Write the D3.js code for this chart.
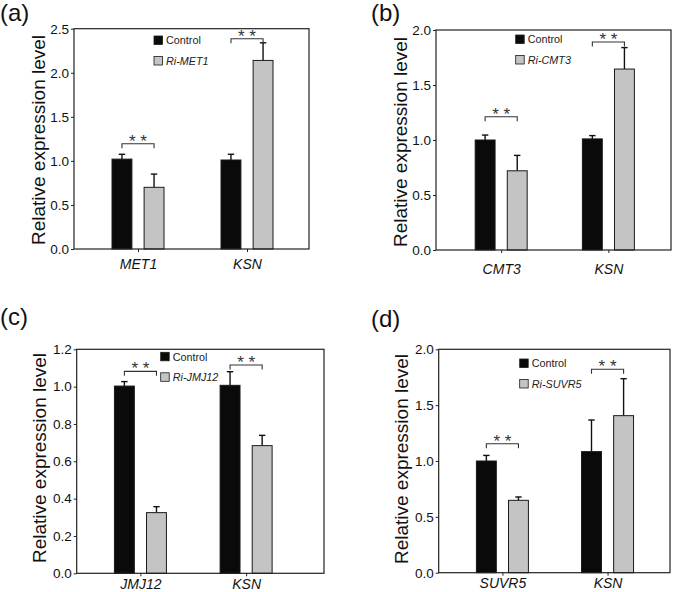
<!DOCTYPE html>
<html>
<head>
<meta charset="utf-8">
<script src="https://cdn.jsdelivr.net/npm/d3@7/dist/d3.min.js"></script>
<style>
  html, body { margin: 0; padding: 0; background: #fff; }
  svg { display: block; font-family: "Liberation Sans", Arial, sans-serif; }
</style>
</head>
<body>
<svg id="chart" width="673" height="592"></svg>
<script>
// ---------- data ----------
const panelLetters = ["(a)", "(b)", "(c)", "(d)"];

const genesA = ["MET1", "KSN"];
const controlA = [1.02, 1.01];
const controlErrA = [0.055, 0.065];
const riA = [0.70, 2.14];
const riErrA = [0.15, 0.20];
const seriesA = ["Control", "Ri-MET1"];
const sigA = [1.195, 2.386];

const genesB = ["CMT3", "KSN"];
const controlB = [1.00, 1.01];
const controlErrB = [0.045, 0.03];
const riB = [0.72, 1.645];
const riErrB = [0.14, 0.195];
const seriesB = ["Control", "Ri-CMT3"];
const sigB = [1.212, 1.891];

const genesC = ["JMJ12", "KSN"];
const controlC = [1.003, 1.007];
const controlErrC = [0.024, 0.073];
const riC = [0.325, 0.684];
const riErrC = [0.032, 0.055];
const seriesC = ["Control", "Ri-JMJ12"];
const sigC = [1.082, 1.116];

const genesD = ["SUVR5", "KSN"];
const controlD = [1.00, 1.084];
const controlErrD = [0.05, 0.283];
const riD = [0.648, 1.406];
const riErrD = [0.03, 0.331];
const seriesD = ["Control", "Ri-SUVR5"];
const sigD = [1.155, 1.821];

const yTicksA = [0, 0.5, 1.0, 1.5, 2.0, 2.5];
const yTicksB = [0, 0.5, 1.0, 1.5, 2.0];
const yTicksC = [0, 0.2, 0.4, 0.6, 0.8, 1.0, 1.2];
const yTicksD = [0, 0.5, 1.0, 1.5, 2.0];
const starText = "* *";
const yTitle = "Relative expression level";

// ---------- layout (positions / styles only) ----------
const layouts = [
  { L: 74, R: 309, T: 28.7, B: 249, pad: 0.578, align: 0.508, lx: 80, ly: 7.3, xlab: 20,
    letter: [0, 21], title: [45, 140] },
  { L: 436, R: 671, T: 30, B: 250, pad: 0.596, align: 0.51, lx: 79.7, ly: 5, xlab: 24,
    letter: [371, 21], title: [407, 142] },
  { L: 76.7, R: 324, T: 349.3, B: 573.3, pad: 0.67, align: 0.45, lx: 84, ly: 3, xlab: 15.5,
    letter: [0, 325], title: [46, 458] },
  { L: 438.7, R: 670, T: 349.3, B: 572.7, pad: 0.60, align: 0.505, lx: 81, ly: 9.7, xlab: 15.5,
    letter: [371, 326.5], title: [408, 459] }
];

const panels = [
  { genes: genesA, ctrl: controlA, ctrlErr: controlErrA, ri: riA, riErr: riErrA, series: seriesA, sig: sigA, ticks: yTicksA },
  { genes: genesB, ctrl: controlB, ctrlErr: controlErrB, ri: riB, riErr: riErrB, series: seriesB, sig: sigB, ticks: yTicksB },
  { genes: genesC, ctrl: controlC, ctrlErr: controlErrC, ri: riC, riErr: riErrC, series: seriesC, sig: sigC, ticks: yTicksC },
  { genes: genesD, ctrl: controlD, ctrlErr: controlErrD, ri: riD, riErr: riErrD, series: seriesD, sig: sigD, ticks: yTicksD }
];

const colors = { ctrl: "#0a0a0a", ri: "#c4c4c4", stroke: "#1a1a1a" };
const svg = d3.select("#chart");

panels.forEach((p, i) => {
  const lay = layouts[i];
  const g = svg.append("g");

  const x = d3.scalePoint().domain(p.genes).range([lay.L, lay.R]).padding(lay.pad).align(lay.align);
  const groupW = 52;
  const x1 = d3.scaleBand().domain(["ctrl", "ri"]).range([-groupW / 2, groupW / 2]).paddingInner(0.38);
  const yMax = p.ticks[p.ticks.length - 1];
  const y = d3.scaleLinear().domain([0, yMax]).range([lay.B, lay.T]);

  const rows = [];
  p.genes.forEach((gname, k) => {
    rows.push({ gene: gname, key: "ctrl", v: p.ctrl[k], e: p.ctrlErr[k] });
    rows.push({ gene: gname, key: "ri", v: p.ri[k], e: p.riErr[k] });
  });

  // error bars
  const eg = g.append("g");
  rows.forEach(r => {
    const cx = x(r.gene) + x1(r.key) + x1.bandwidth() / 2;
    eg.append("line").attr("x1", cx).attr("x2", cx)
      .attr("y1", y(r.v)).attr("y2", y(r.v + r.e))
      .attr("stroke", "#111").attr("stroke-width", 1.4);
    eg.append("line").attr("x1", cx - 3.2).attr("x2", cx + 3.2)
      .attr("y1", y(r.v + r.e)).attr("y2", y(r.v + r.e))
      .attr("stroke", "#111").attr("stroke-width", 1.4);
  });

  // bars
  g.append("g").selectAll("rect").data(rows).join("rect")
    .attr("x", r => x(r.gene) + x1(r.key))
    .attr("width", x1.bandwidth())
    .attr("y", r => y(r.v))
    .attr("height", r => y(0) - y(r.v))
    .attr("fill", r => colors[r.key])
    .attr("stroke", colors.stroke)
    .attr("stroke-width", 1);

  // significance brackets
  p.genes.forEach((gname, k) => {
    const xa = x(gname) + x1("ctrl") + x1.bandwidth() / 2;
    const xb = x(gname) + x1("ri") + x1.bandwidth() / 2;
    const yy = y(p.sig[k]);
    g.append("path")
      .attr("d", `M${xa},${yy + 4.5}V${yy}H${xb}V${yy + 4.5}`)
      .attr("fill", "none").attr("stroke", "#333").attr("stroke-width", 1.1);
    g.append("text").attr("x", (xa + xb) / 2).attr("y", yy + 3)
      .attr("text-anchor", "middle").attr("font-size", 17).attr("fill", "#333")
      .text(starText);
  });

  // frame
  g.append("rect").attr("x", lay.L).attr("y", lay.T)
    .attr("width", lay.R - lay.L).attr("height", lay.B - lay.T)
    .attr("fill", "none").attr("stroke", "#222").attr("stroke-width", 1.2);

  // y axis
  const ya = g.append("g").attr("transform", `translate(${lay.L},0)`)
    .call(d3.axisLeft(y).tickValues(p.ticks).tickFormat(d3.format(".1f")).tickSize(3).tickPadding(2));
  ya.select(".domain").remove();
  ya.selectAll("text").attr("font-size", 13.5).attr("fill", "#111").attr("font-family", "Liberation Sans, Arial, sans-serif");
  ya.selectAll("line").attr("stroke", "#222");

  // x axis
  const xa = g.append("g").attr("transform", `translate(0,${lay.B})`)
    .call(d3.axisBottom(x).tickSize(3).tickPadding(lay.xlab - 3 - 0.71 * 14));
  xa.select(".domain").remove();
  xa.selectAll("text").attr("font-size", 14).attr("font-style", "italic").attr("fill", "#111")
    .attr("font-family", "Liberation Sans, Arial, sans-serif");
  xa.selectAll("line").attr("stroke", "#222");

  // legend
  const lg = g.append("g").attr("transform", `translate(${lay.L + lay.lx},${lay.T + lay.ly})`);
  ["ctrl", "ri"].forEach((key, j) => {
    const row = lg.append("g").attr("transform", `translate(0,${j * 20.5})`);
    row.append("rect").attr("x", 0).attr("y", 0).attr("width", 8.5).attr("height", 8.5)
      .attr("fill", colors[key]).attr("stroke", colors.stroke).attr("stroke-width", 0.8);
    row.append("text").attr("x", 12).attr("y", 8.3)
      .attr("font-size", 10.8).attr("fill", "#222")
      .attr("font-style", key === "ri" ? "italic" : "normal")
      .text(p.series[j]);
  });

  // y title
  g.append("text")
    .attr("transform", `translate(${lay.title[0]},${lay.title[1]}) rotate(-90)`)
    .attr("text-anchor", "middle").attr("font-size", 19).attr("fill", "#111")
    .text(yTitle);

  // panel letter
  g.append("text").attr("x", lay.letter[0]).attr("y", lay.letter[1])
    .attr("font-size", 24).attr("fill", "#111").text(panelLetters[i]);
});
</script>
</body>
</html>
